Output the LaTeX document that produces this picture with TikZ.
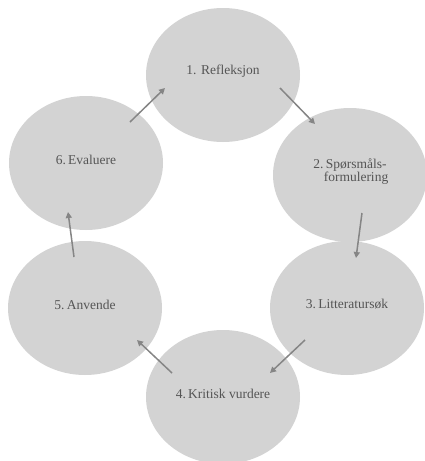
\documentclass[tikz,border=0pt]{standalone}
\usepackage{fontspec}
\setmainfont{Liberation Serif}
\usetikzlibrary{shapes.geometric,arrows.meta}
\definecolor{ellfill}{HTML}{D3D3D3}
\definecolor{txtgray}{HTML}{555555}
\definecolor{arrgray}{HTML}{858585}
\newcommand{\uptext}[1]{\raisebox{3.5pt}[\height][\depth]{#1}}
\tikzset{
  stage/.style={ellipse, fill=ellfill, draw=none, minimum width=154pt, minimum height=134pt,
    inner sep=0pt, text=txtgray, font=\fontsize{13.5}{15}\selectfont},
  flow/.style={draw=arrgray, line width=1.5pt, -{Triangle[length=6pt,width=6pt]}}
}
\begin{document}
\begin{tikzpicture}[x=1pt,y=-1pt]
\useasboundingbox (0,0) rectangle (425,461);
\node[stage] (e1) at (223,75) {\uptext{1. Refleksjon}};
\node[stage] (e2) at (350,175) {\uptext{\begin{tabular}{@{}c@{}}2.\,Spørsmåls-\\[-2pt]\hspace*{12pt}formulering\end{tabular}}};
\node[stage] (e3) at (347,308) {\uptext{3.\,Litteratursøk}};
\node[stage] (e4) at (223,397) {\uptext{4.\,Kritisk vurdere}};
\node[stage] (e5) at (85,308) {\uptext{5.\,Anvende}};
\node[stage] (e6) at (86,163) {\uptext{6.\,Evaluere}};
\coordinate (a61) at (130,122); \coordinate (b61) at (165,88);
\coordinate (a12) at (280,88);  \coordinate (b12) at (315,124);
\coordinate (a23) at (362,213); \coordinate (b23) at (356,258);
\coordinate (a34) at (305,340); \coordinate (b34) at (270,373);
\coordinate (a45) at (172,373); \coordinate (b45) at (137,340);
\coordinate (a56) at (74,257);  \coordinate (b56) at (68,212);
\draw[flow] (a61) -- (b61);
\draw[flow] (a12) -- (b12);
\draw[flow] (a23) -- (b23);
\draw[flow] (a34) -- (b34);
\draw[flow] (a45) -- (b45);
\draw[flow] (a56) -- (b56);
\end{tikzpicture}
\end{document}
